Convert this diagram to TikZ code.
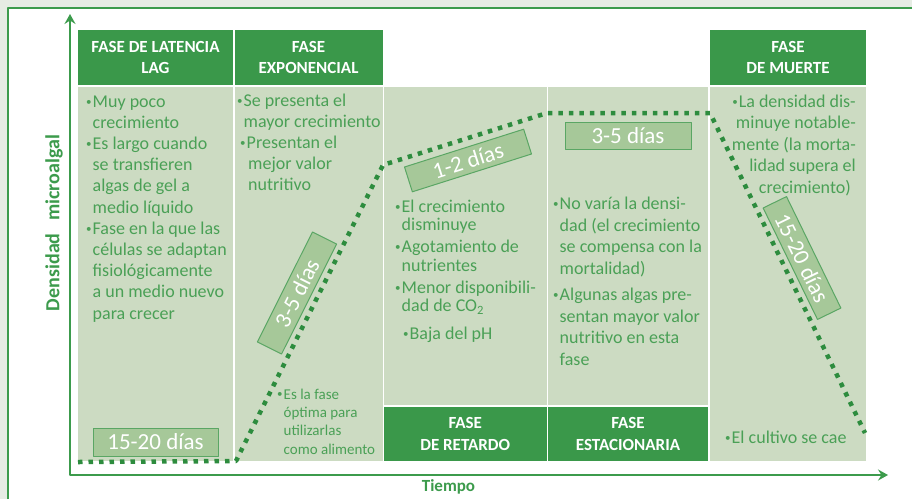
\documentclass[tikz,border=0pt]{standalone}
\usepackage{fontspec}
\setmainfont{Carlito}
\usetikzlibrary{arrows.meta}

\definecolor{hdrgreen}{RGB}{58,152,74}
\definecolor{bodygreen}{RGB}{204,219,194}
\definecolor{txtgreen}{RGB}{74,160,86}
\definecolor{lblfill}{RGB}{166,200,153}
\definecolor{lbldraw}{RGB}{90,166,100}
\definecolor{dotgreen}{RGB}{45,140,62}
\definecolor{axisgreen}{RGB}{60,155,76}
\definecolor{outergray}{RGB}{230,236,228}

\newcommand{\itmdot}{\makebox[6.5pt][l]{\raisebox{2pt}{\fontsize{11}{11}\selectfont\textbullet}}}
\newcommand{\itmgap}{\hspace*{6.5pt}}

\begin{document}
\begin{tikzpicture}[x=1pt, y=-1pt, line join=round,
    hdr/.style={fill=hdrgreen, text=white, align=center, inner sep=0pt,
      font=\bfseries\fontsize{17}{21.5}\selectfont},
    lbl/.style={fill=lblfill, draw=lbldraw, line width=1pt, text=white, inner sep=0pt,
      minimum width=125pt, minimum height=27pt, font=\fontsize{23}{23}\selectfont},
    body/.style={text=txtgreen, align=left, inner sep=0pt, anchor=base west},
    dots/.style={draw=dotgreen, line width=4.5pt, dash pattern=on 4.5pt off 6pt},
    axis/.style={draw=axisgreen, line width=2.5pt}]
  \useasboundingbox (0,0) rectangle (912,499);
  % frame
  \fill[outergray] (0,0) rectangle (912,499);
  \fill[white] (8,8) rectangle (912,499);
  \draw[axisgreen, line width=2pt] (7.5,499) -- (7.5,7.5) -- (912,7.5);

  % columns
  \fill[bodygreen] (78,87) rectangle (233,461);
  \fill[bodygreen] (234.5,87) rectangle (382.5,461);
  \fill[bodygreen] (384,87) rectangle (546.5,405);
  \fill[bodygreen] (548,87) rectangle (708,405);
  \fill[bodygreen] (710,87) rectangle (866,461);

  % headers
  \node[hdr, minimum width=155pt, minimum height=55pt] (lag) at (155.5,57.5) {FASE DE LATENCIA\\LAG};
  \node[hdr, minimum width=148pt, minimum height=55pt] (expo) at (308.5,57.5) {FASE\\EXPONENCIAL};
  \node[hdr, minimum width=156pt, minimum height=55pt] (muerte) at (788,57.5) {FASE\\DE MUERTE};
  \node[hdr, minimum width=162.5pt, minimum height=54pt] (retardo) at (465.25,434) {FASE\\DE RETARDO};
  \node[hdr, minimum width=160pt, minimum height=54pt] (estac) at (628,434) {FASE\\ESTACIONARIA};

  % texts (placed by the baseline of their last line)
  \node[body, font=\fontsize{18}{21.2}\selectfont] (lagtxt) at (86,319) {\itmdot Muy poco\\
    \itmgap crecimiento\\
    \itmdot Es largo cuando\\
    \itmgap se transfieren\\
    \itmgap algas de gel a\\
    \itmgap medio líquido\\
    \itmdot Fase en la que las\\
    \itmgap células se adaptan\\
    \itmgap fisiológicamente\\
    \itmgap a un medio nuevo\\
    \itmgap para crecer};
  \node[body, font=\fontsize{18}{20.8}\selectfont] (expotxt) at (237,190) {\itmdot Se presenta el\\
    \itmgap mayor crecimiento\\
    \hspace*{3pt}\itmdot Presentan el\\
    \hspace*{11pt}mejor valor\\
    \hspace*{11pt}nutritivo};
  \node[body, font=\fontsize{15}{18.3}\selectfont] (opttxt) at (277,454) {\itmdot Es la fase\\
    \itmgap óptima para\\
    \itmgap utilizarlas\\
    \itmgap como alimento};
  \node[body, font=\fontsize{18}{18.3}\selectfont] (rettxt) at (395,339) {\itmdot El crecimiento\\
    \itmgap disminuye\\[4pt]
    \itmdot Agotamiento de\\
    \itmgap nutrientes\\[4pt]
    \itmdot Menor disponibili-\\
    \itmgap dad de CO\textsubscript{2}\\[9pt]
    \hspace*{8pt}\itmdot Baja del pH};
  \node[body, font=\fontsize{18}{21.5}\selectfont] (esttxt) at (553,365) {\itmdot No varía la densi-\\
    \itmgap dad (el crecimiento\\
    \itmgap se compensa con la\\
    \itmgap mortalidad)\\[5pt]
    \itmdot Algunas algas pre-\\
    \itmgap sentan mayor valor\\
    \itmgap nutritivo en esta\\
    \itmgap fase};
  \node[body, align=right, anchor=base east, font=\fontsize{18}{21.5}\selectfont] (muetxt) at (856,193) {\itmdot La densidad dis-\\
    minuye notable-\\
    mente (la morta-\\
    lidad supera el\\
    crecimiento)\hspace*{5pt}};
  \node[body, font=\fontsize{18}{21.5}\selectfont] (caetxt) at (725,443) {\itmdot El cultivo se cae};

  % curve
  \coordinate (0) at (78,462);
  \coordinate (1) at (236,461);
  \coordinate (2) at (383,165);
  \coordinate (3) at (547,113);
  \coordinate (4) at (710,113);
  \coordinate (5) at (865,433);
  \draw[dots] (0) -- (1) -- (2) -- (3) -- (4) -- (5);

  % durations
  \node[lbl, minimum height=28pt] (d1) at (155.5,442) {15-20 días};
  \node[lbl, rotate=63.4, minimum width=123pt] (d2) at (297,293) {3-5 días};
  \node[lbl, rotate=17.6, minimum height=26pt] (d3) at (468,160.5) {1-2 días};
  \node[lbl, minimum width=126pt] (d4) at (628,135.5) {3-5 días};
  \node[lbl, rotate=-64, minimum width=124pt, minimum height=26pt] (d5) at (802,258) {15-20 días};

  % axes
  \coordinate (o) at (70,475);
  \coordinate (ytip) at (70,14);
  \coordinate (xtip) at (888,475);
  \draw[axis, {Stealth[length=10pt,width=11pt,inset=3.5pt]}-{Stealth[length=10pt,width=11pt,inset=3.5pt]}] (ytip) -- (o) -- (xtip);
  \node[text=axisgreen, font=\bfseries\fontsize{20}{20}\selectfont, rotate=90] (ylab) at (54,223) {Densidad\hspace{0.4em} microalgal};
  \node[text=axisgreen, font=\bfseries\fontsize{17}{17}\selectfont] (xlab) at (448.5,487) {Tiempo};
\end{tikzpicture}
\end{document}
